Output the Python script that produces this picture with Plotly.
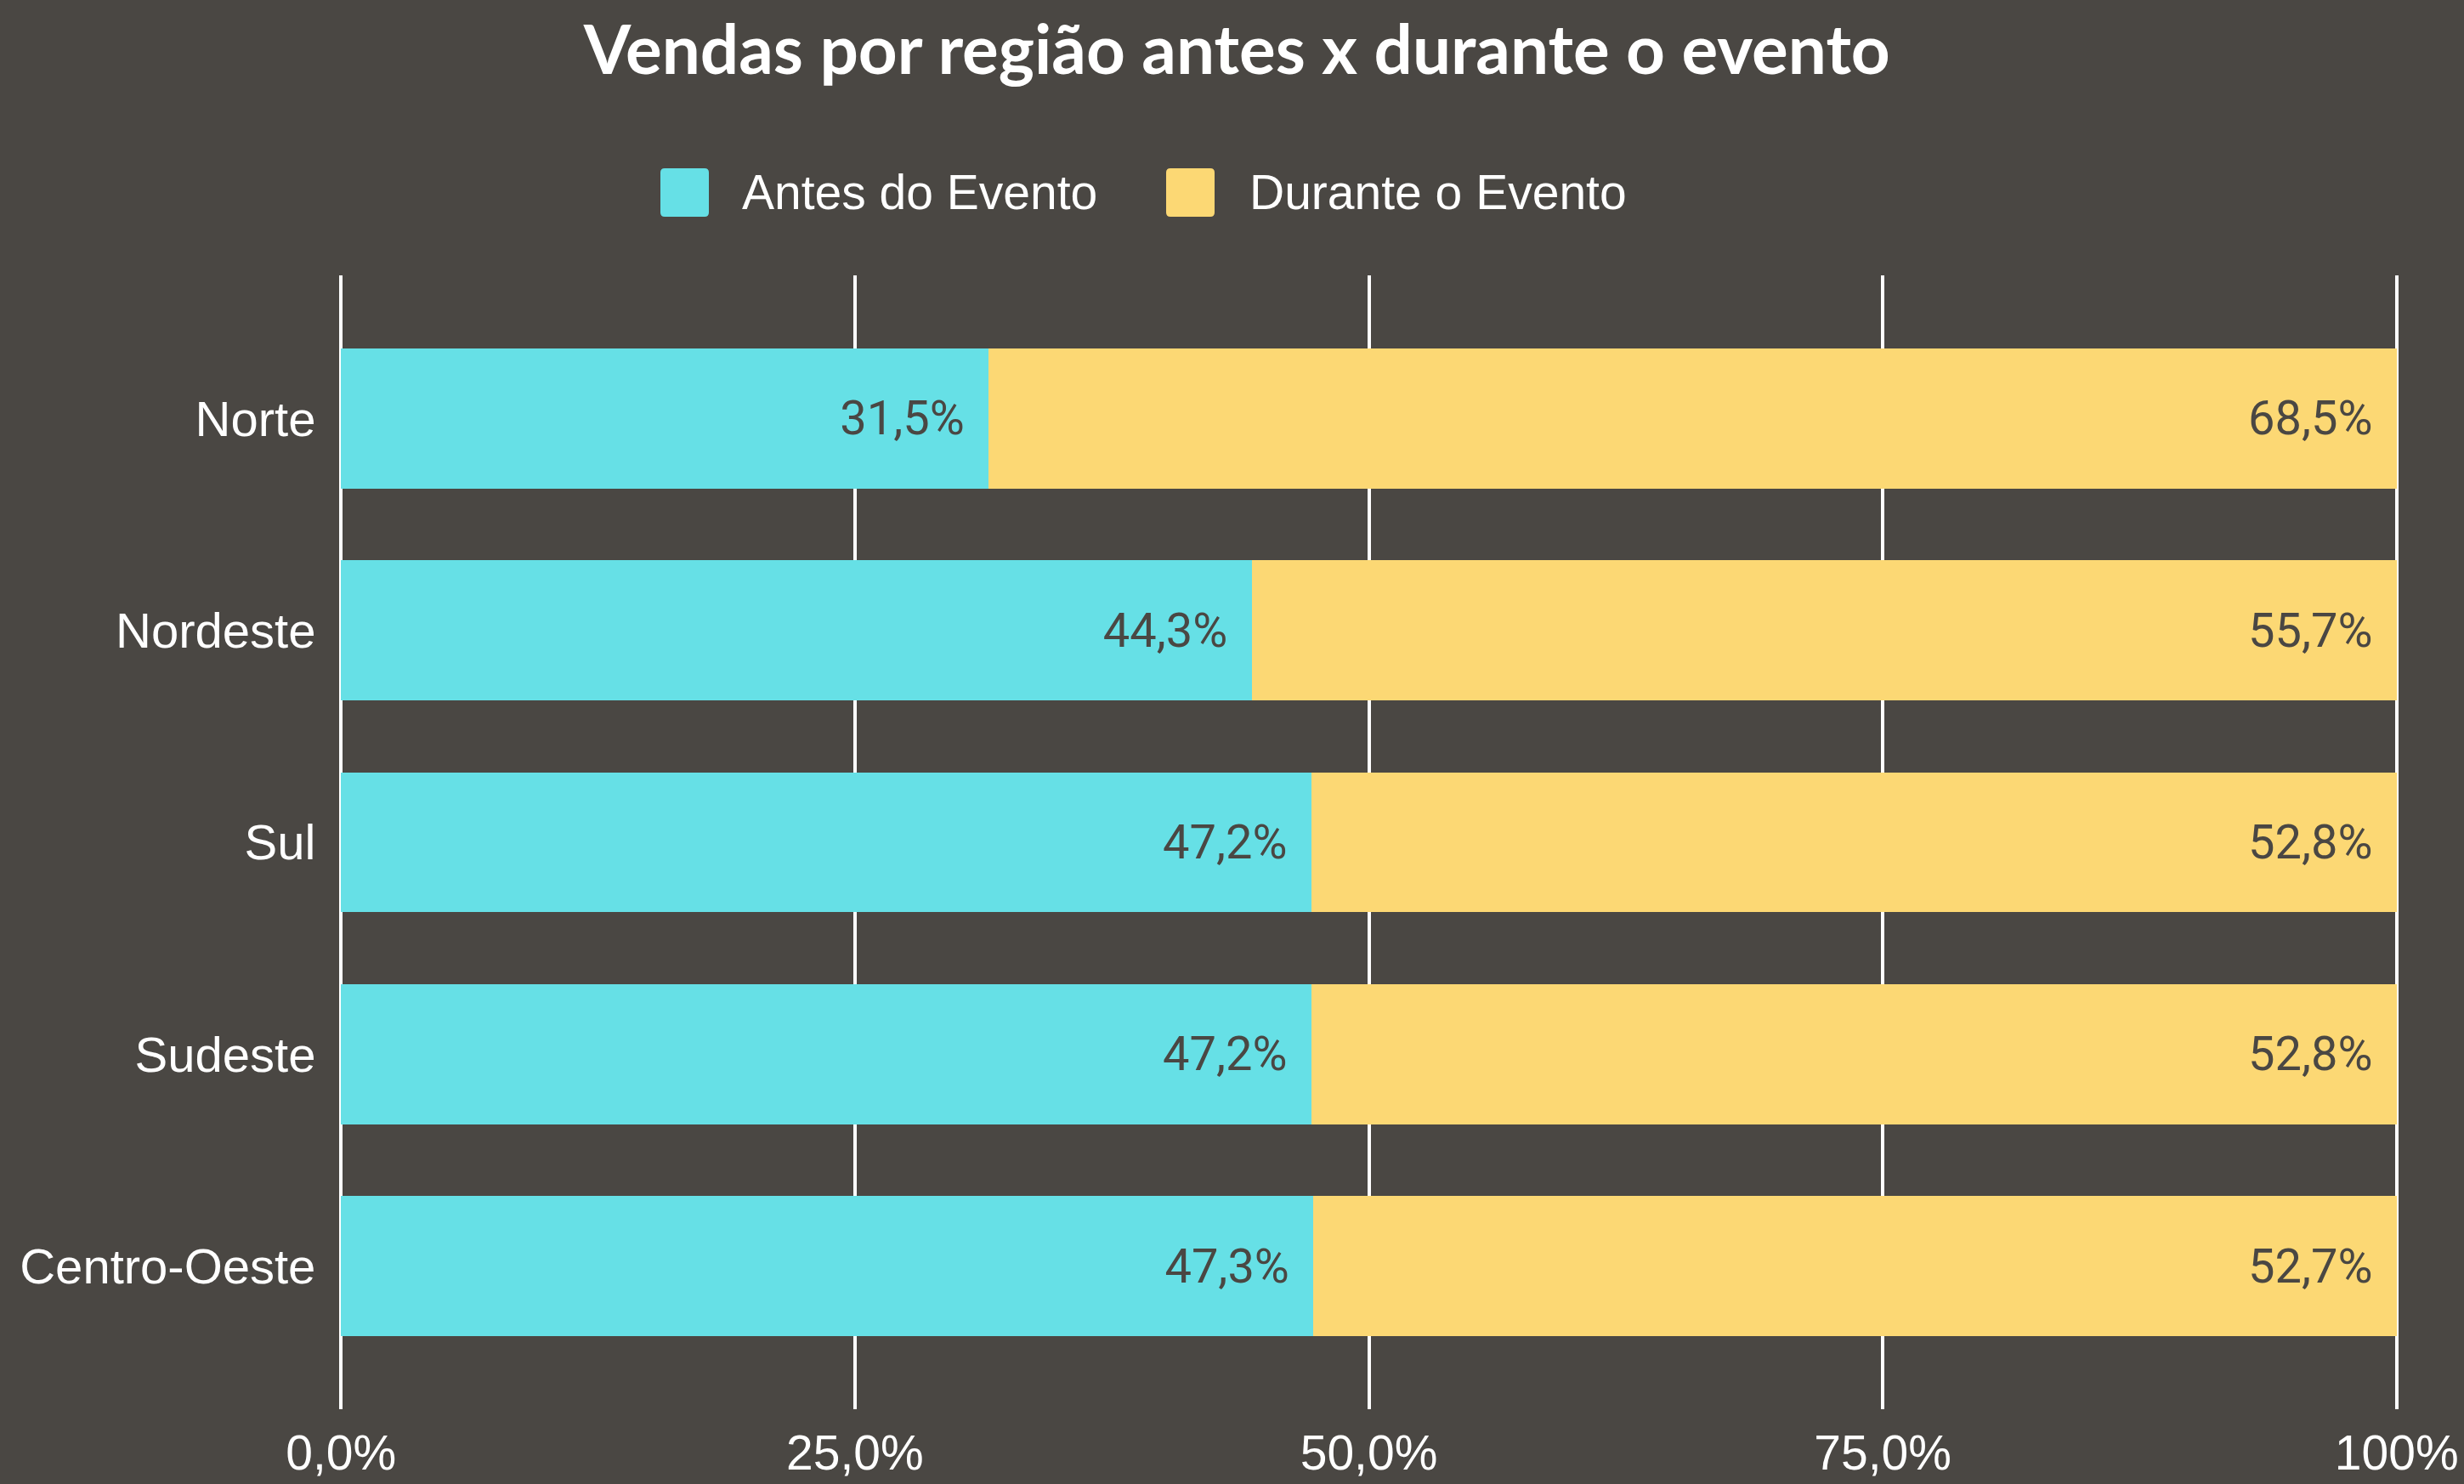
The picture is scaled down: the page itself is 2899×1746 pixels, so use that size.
import plotly.graph_objects as go

# ---- data ----
regioes = ["Norte", "Nordeste", "Sul", "Sudeste", "Centro-Oeste"]
antes = [31.5, 44.3, 47.2, 47.2, 47.3]
durante = [68.5, 55.7, 52.8, 52.8, 52.7]
serie_nomes = ["Antes do Evento", "Durante o Evento"]
tick_vals = [0, 25, 50, 75, 100]
tick_text = ["0,0%", "25,0%", "50,0%", "75,0%", "100%"]
titulo = "Vendas por região antes x durante o evento"

# ---- style ----
BG = "#4A4743"
CYAN = "#66E0E6"
YELLOW = "#FCD874"
FONT = "Arial, Liberation Sans, sans-serif"
LABEL_FONT = "Roboto, Arial, sans-serif"
W, H = 2899, 1746
ML, MR, MT, MB = 394, 72, 324, 88
PW = W - ML - MR
PH = H - MT - MB


def fmt(v):
    return f"{v:.1f}".replace(".", ",") + "%\u00a0\u2009"


def px2x(p):
    return (p - ML) / PW


def px2y(p):
    return (H - MB - p) / PH


fig = go.Figure()
for nome, vals, cor in [(serie_nomes[0], antes, CYAN), (serie_nomes[1], durante, YELLOW)]:
    fig.add_trace(go.Bar(
        y=regioes, x=vals, name=nome, orientation="h",
        marker=dict(color=cor, line=dict(width=0)),
        text=[fmt(v) for v in vals], textposition="inside",
        insidetextanchor="end",
        textfont=dict(color=BG, size=56, family=LABEL_FONT),
        showlegend=False,
    ))

# manual legend (large square swatches)
shapes = []
annotations = []
legend_items = [(serie_nomes[0], CYAN, 777, 871), (serie_nomes[1], YELLOW, 1372, 1468)]
for nome, cor, sx, tx in legend_items:
    x0, x1, y0, y1, r = sx, sx + 57, 198, 255, 5
    path = (f"M {px2x(x0 + r)} {px2y(y0)} L {px2x(x1 - r)} {px2y(y0)} "
            f"Q {px2x(x1)} {px2y(y0)} {px2x(x1)} {px2y(y0 + r)} "
            f"L {px2x(x1)} {px2y(y1 - r)} Q {px2x(x1)} {px2y(y1)} {px2x(x1 - r)} {px2y(y1)} "
            f"L {px2x(x0 + r)} {px2y(y1)} Q {px2x(x0)} {px2y(y1)} {px2x(x0)} {px2y(y1 - r)} "
            f"L {px2x(x0)} {px2y(y0 + r)} Q {px2x(x0)} {px2y(y0)} {px2x(x0 + r)} {px2y(y0)} Z")
    shapes.append(dict(type="path", path=path, xref="paper", yref="paper",
                       fillcolor=cor, line=dict(width=0)))
    annotations.append(dict(text=nome, x=px2x(tx), y=px2y(226), xref="paper", yref="paper",
                            xanchor="left", yanchor="middle", showarrow=False,
                            font=dict(color="white", size=57, family=FONT)))

fig.update_layout(
    width=W, height=H,
    barmode="stack", bargap=0.34,
    paper_bgcolor=BG, plot_bgcolor=BG,
    margin=dict(l=ML, r=MR, t=MT, b=MB, autoexpand=False),
    title=dict(text=titulo, x=0.502, xref="container", xanchor="center",
               y=1 - 59 / H, yref="container", yanchor="middle",
               font=dict(family="Lato, Open Sans, sans-serif", size=80, color="white", weight=700)),
    shapes=shapes, annotations=annotations,
    showlegend=False,
)
fig.update_xaxes(
    range=[-0.3, 100.3], tickvals=tick_vals, ticktext=tick_text,
    showgrid=True, gridcolor="white", gridwidth=4, zeroline=False, showline=False,
    ticks="outside", ticklen=2, tickcolor=BG, automargin=False,
    tickfont=dict(color="white", size=57, family=FONT), fixedrange=True,
)
fig.update_yaxes(
    categoryorder="array", categoryarray=regioes, range=[4.675, -0.675],
    showgrid=False, zeroline=False, showline=False, automargin=False,
    ticks="outside", ticklen=10, tickcolor=BG,
    tickfont=dict(color="white", size=58, family=FONT),
)

fig.write_html(
    "out.html",
    config={"displayModeBar": False},
    post_script=f"document.body.style.margin='0';document.body.style.background='{BG}';",
)
